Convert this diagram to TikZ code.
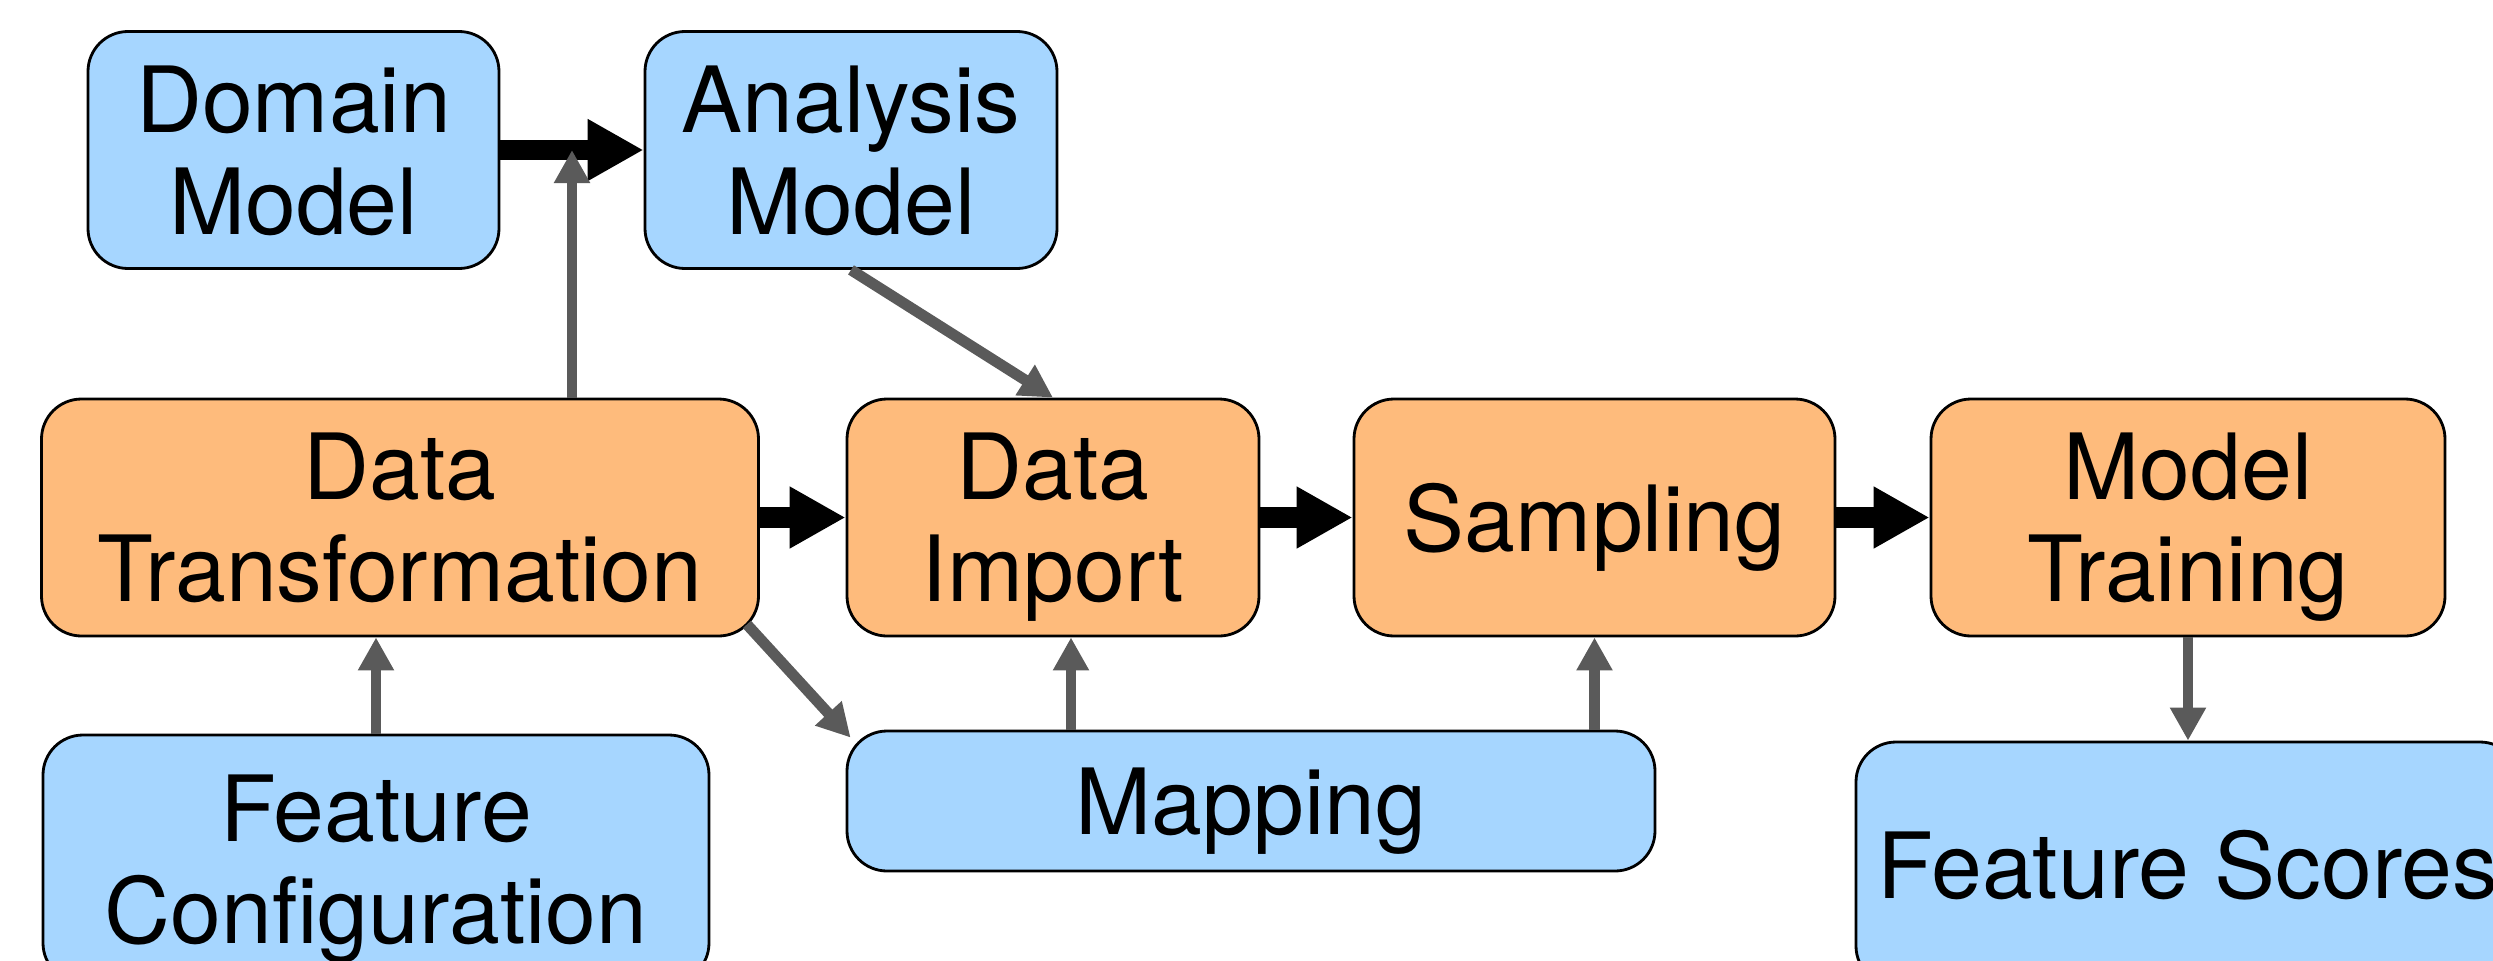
\documentclass[tikz,border=0pt]{standalone}
\usepackage{fontspec}
\setmainfont{TeX Gyre Heros}
\usetikzlibrary{arrows.meta,positioning,calc}
\definecolor{stage}{HTML}{FEBB7C}
\definecolor{artifact}{HTML}{A6D6FF}
\definecolor{wire}{HTML}{5A5A5A}
\tikzset{
  box/.style={draw=black,line width=0.8pt,rounded corners=4mm,align=center,font=\fontsize{26}{29}\selectfont,inner sep=0pt,text depth=0pt,minimum height=23.7mm},
  stagebox/.style={box,fill=stage},
  artbox/.style={box,fill=artifact},
  flow/.style={-{Triangle[length=5.6mm,width=5.8mm]},line width=5.7pt,draw=black},
  feed/.style={-{Triangle[length=3.3mm,width=3.4mm]},line width=3.1pt,draw=wire},
}

\begin{document}
\begin{tikzpicture}
  \useasboundingbox (0,0) rectangle (24.93,-9.61);
  \clip (0,0) rectangle (24.93,-9.61);
  \node[artbox,minimum width=41.1mm] (dom) at (2.935,-1.50) {Domain\\Model};
  \node[artbox,minimum width=41.2mm] (ana) at (8.51,-1.50) {Analysis\\Model};
  \node[stagebox,minimum width=71.7mm] (trans) at (4.00,-5.175) {Data\\Transformation};
  \node[stagebox,minimum width=41.2mm] (imp) at (10.53,-5.175) {Data\\Import};
  \node[stagebox,minimum width=48.1mm] (samp) at (15.945,-5.175) {Sampling};
  \node[stagebox,minimum width=51.4mm] (train) at (21.88,-5.175) {Model\\Training};
  \node[artbox,minimum width=66.6mm,minimum height=24.8mm] (fconf) at (3.76,-8.59) {Feature\\Configuration};
  \node[artbox,minimum width=80.8mm,minimum height=14mm] (map) at (12.51,-8.01) {Mapping};
  \node[artbox,minimum width=66.4mm,minimum height=24.4mm] (score) at (21.88,-8.64) {Feature Scores};
  \coordinate (mid) at ($(dom.east)!0.5!(ana.west)$);
  \coordinate (impin) at ([xshift=1.8mm]imp.south);
  \draw[flow] (dom.east) -- (ana.west);
  \draw[flow] (trans.east) -- (imp.west);
  \draw[flow] (imp.east) -- (samp.west);
  \draw[flow] (samp.east) -- (train.west);
  \draw[feed] (trans.north -| mid) -- (mid);
  \draw[feed] (ana.south) -- (imp.north);
  \draw[feed] (fconf.north) -- (fconf.north |- trans.south);
  \draw[feed] ([shift={(-0.13,0.13)}]trans.south east) -- ([shift={(0.05,-0.08)}]map.north west);
  \draw[feed] (map.north -| impin) -- (impin);
  \draw[feed] (map.north -| samp.south) -- (samp.south);
  \draw[feed] (train.south) -- (score.north);
\end{tikzpicture}
\end{document}
